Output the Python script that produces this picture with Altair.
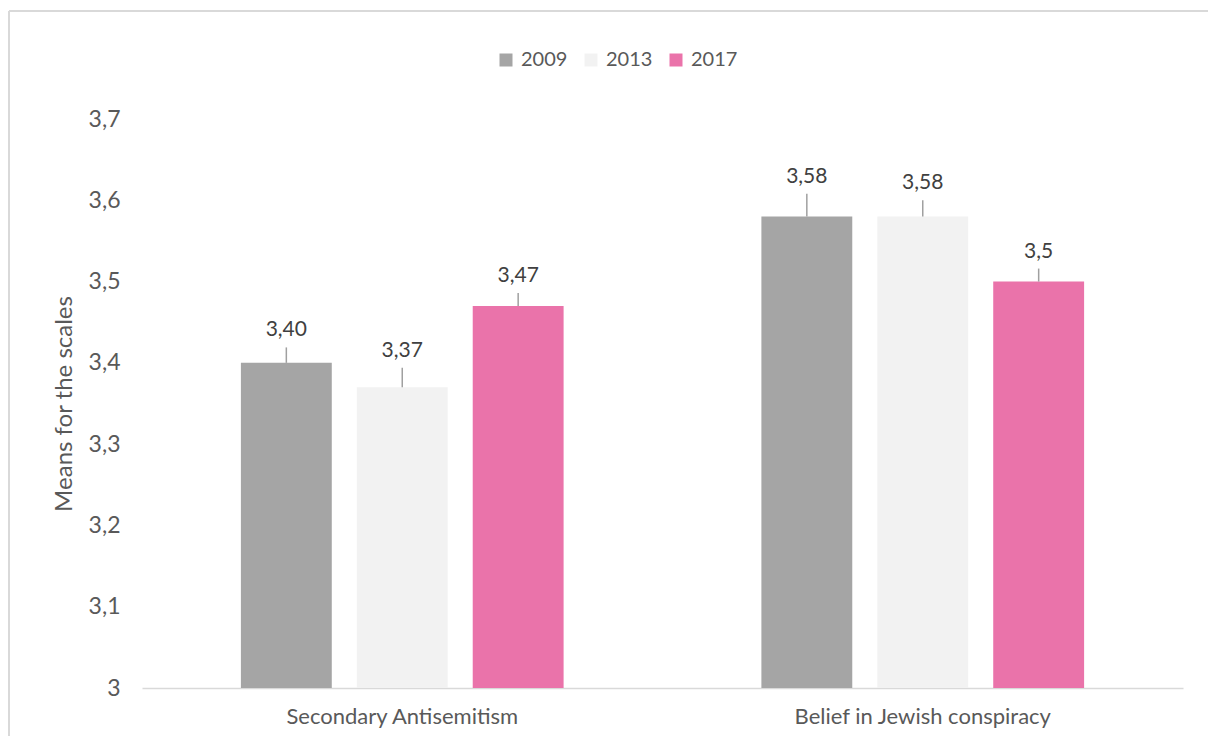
import altair as alt
import pandas as pd

categories = ["Secondary Antisemitism", "Belief in Jewish conspiracy"]
years = ["2009", "2013", "2017"]
values_2009 = [3.40, 3.58]
values_2013 = [3.37, 3.58]
values_2017 = [3.47, 3.50]
errors_2009 = [0.019, 0.028]
errors_2013 = [0.024, 0.020]
errors_2017 = [0.016, 0.016]
labels_2009 = ["3,40", "3,58"]
labels_2013 = ["3,37", "3,58"]
labels_2017 = ["3,47", "3,5"]
colors = ["#a5a5a5", "#f2f2f2", "#ea73aa"]

rows = []
for yr, vals, errs, labs in [
    ("2009", values_2009, errors_2009, labels_2009),
    ("2013", values_2013, errors_2013, labels_2013),
    ("2017", values_2017, errors_2017, labels_2017),
]:
    for c, v, e, l in zip(categories, vals, errs, labs):
        rows.append({"category": c, "year": yr, "value": v, "top": v + e, "label": l})
df = pd.DataFrame(rows)

FONT = "Lato"
TXT = "#595959"

x = alt.X("category:N", sort=categories,
          scale=alt.Scale(paddingInner=0.38, paddingOuter=0.19),
          axis=alt.Axis(title=None, labelAngle=0, ticks=False, domainColor="#d9d9d9",
                        domainWidth=1.5, labelFontSize=22, labelColor=TXT,
                        labelFont=FONT, labelPadding=18, labelLimit=0))
xo = alt.XOffset("year:N", sort=years,
                 scale=alt.Scale(paddingInner=0.216, paddingOuter=0))
y_scale = alt.Scale(domain=[3, 3.7], nice=False, zero=False)

bars = alt.Chart(df).mark_bar().encode(
    x=x, xOffset=xo,
    y=alt.Y("value:Q", scale=y_scale,
            axis=alt.Axis(title="Means for the scales", values=[3, 3.1, 3.2, 3.3, 3.4, 3.5, 3.6, 3.7],
                          labelExpr="replace(format(datum.value, '.1~f'), '.', ',')",
                          grid=False, domain=False, ticks=False, labelFontSize=23,
                          labelColor=TXT, labelFont=FONT, labelPadding=22,
                          titleFontSize=24, titleFontWeight="normal", titleColor=TXT,
                          titleFont=FONT, titlePadding=12)),
    y2=alt.datum(3),
    color=alt.Color("year:N", sort=years, scale=alt.Scale(domain=years, range=colors),
                    legend=alt.Legend(title=None, orient="none", direction="horizontal",
                                      legendX=354, legendY=-69, symbolType="square",
                                      symbolSize=169, symbolStrokeWidth=0,
                                      labelFontSize=20, labelColor=TXT, labelFont=FONT,
                                      columnPadding=13, labelOffset=5)),
)

err = alt.Chart(df).mark_rule(color="#a0a0a0", strokeWidth=1.5).encode(
    x=x, xOffset=xo,
    y=alt.Y("value:Q", scale=y_scale),
    y2="top:Q",
)

text = alt.Chart(df).mark_text(baseline="middle", dy=-17, fontSize=21, color="#404040",
                               font=FONT).encode(
    x=x, xOffset=xo,
    y=alt.Y("top:Q", scale=y_scale),
    text="label:N",
)

frame = alt.Chart(df).mark_rule(color="#d9d9d9", strokeWidth=2).encode(
    x=alt.value(-133), x2=alt.value(1100), y=alt.value(-108)
)
frame2 = alt.Chart(df).mark_rule(color="#d9d9d9", strokeWidth=2).encode(
    x=alt.value(-133), y=alt.value(-108), y2=alt.value(640)
)

chart = alt.layer(frame, frame2, bars, err, text).properties(
    width=1041, height=569,
    background="white",
    autosize=alt.AutoSizeParams(type="none"),
    padding={"left": 134, "top": 111, "right": 25, "bottom": 48},
).configure_view(strokeWidth=0, stroke=None)

chart.save("out.html", embed_options={"renderer": "svg", "actions": False})
